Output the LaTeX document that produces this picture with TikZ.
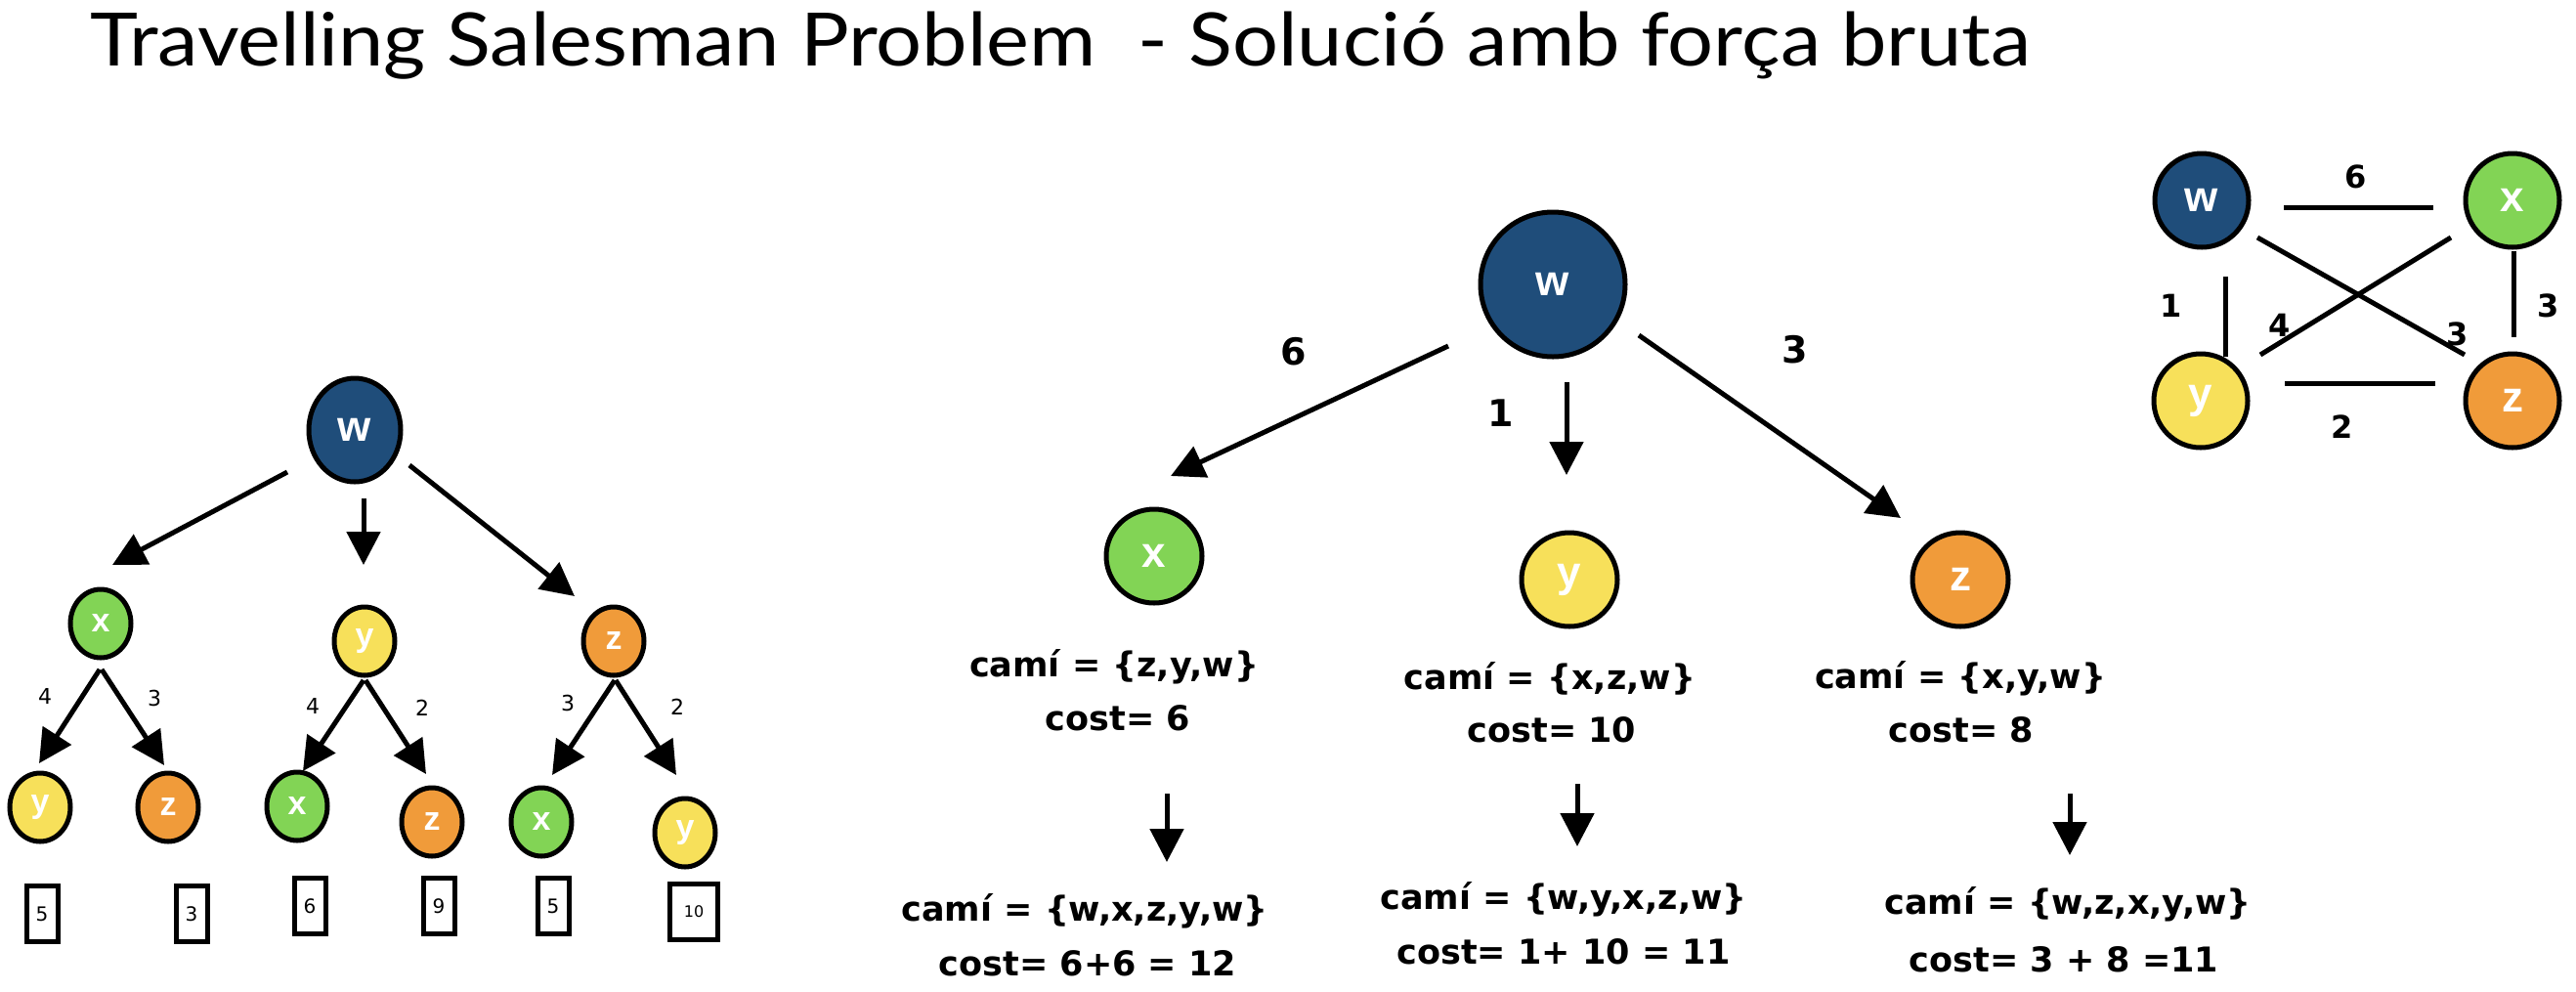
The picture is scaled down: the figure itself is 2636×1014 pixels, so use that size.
\documentclass[tikz,border=0pt]{standalone}
\usepackage{fontspec}
\usetikzlibrary{shapes.geometric,arrows.meta,calc}
\newfontfamily\titlefont[FakeStretch=1.1]{Lato}
\newfontfamily\vfont{Liberation Sans}
\newfontfamily\hfont{DejaVu Sans}
\definecolor{cw}{HTML}{1F4D7A}
\definecolor{cx}{HTML}{82D455}
\definecolor{cy}{HTML}{F7E05A}
\definecolor{cz}{HTML}{F09B3A}
\begin{document}
\begin{tikzpicture}[x=0.5pt,y=-0.5pt,
  vtx/.style={ellipse,draw=black,line width=2.5pt,inner sep=0pt,text=white,font=\vfont\bfseries\fontsize{22}{22}\selectfont},
  vs/.style={vtx,minimum width=31pt,minimum height=35pt,font=\vfont\bfseries\fontsize{17}{17}\selectfont},
  vbig/.style={vtx,minimum width=47pt,minimum height=53pt},
  vm/.style={vtx,minimum width=49pt,minimum height=48pt},
  vhuge/.style={vtx,minimum width=74pt,minimum height=74pt},
  vr/.style={vtx,minimum width=48pt,minimum height=48pt},
  fw/.style={fill=cw}, fx/.style={fill=cx}, fy/.style={fill=cy}, fz/.style={fill=cz},
  arr/.style={line width=2.5pt,-{Triangle[length=17pt,width=17pt]}},
  edge/.style={line width=2.5pt},
  lblS/.style={font=\hfont\fontsize{11}{11}\selectfont,inner sep=0pt},
  lblM/.style={font=\hfont\bfseries\fontsize{19}{19}\selectfont,inner sep=0pt},
  lblR/.style={font=\hfont\bfseries\fontsize{16}{16}\selectfont,inner sep=0pt},
  htext/.style={font=\hfont\bfseries\fontsize{17.5}{18}\selectfont,inner sep=0pt},
  costbox/.style={draw,line width=2.5pt,minimum width=16pt,minimum height=28.5pt,inner sep=0pt,font=\hfont\fontsize{10}{10}\selectfont}
]
\useasboundingbox (0,0) rectangle (2636,1014);

% title
\node[anchor=base west,inner sep=0pt,font=\titlefont\fontsize{37.7}{40}\selectfont] (title) at (92,67) {Travelling Salesman Problem \ - Solució amb força bruta};

% ---------- left tree ----------
\node[vbig,fw] (Lw) at (363,440) {w};
\node[vs,fx] (Lx) at (103,638) {x};
\node[vs,fy] (Ly) at (373,656) {y};
\node[vs,fz] (Lz) at (628,656) {z};
\node[vs,fy] (Lxy) at (41,826) {y};
\node[vs,fz] (Lxz) at (172,826) {z};
\node[vs,fx] (Lyx) at (304,825) {x};
\node[vs,fz] (Lyz) at (442,841) {z};
\node[vs,fx] (Lzx) at (554,841) {x};
\node[vs,fy] (Lzy) at (701,852) {y};

\node[costbox] (B1) at (43,935) {5};
\node[costbox] (B2) at (196,935) {3};
\node[costbox] (B3) at (317,927) {6};
\node[costbox] (B4) at (449,927) {9};
\node[costbox] (B5) at (566,927) {5};
\node[costbox,minimum width=24.5pt,font=\hfont\fontsize{8}{8}\selectfont] (B6) at (710,933) {10};

\draw[arr] ($(Lw)+(-69,43)$) -- ($(Lx)+(12,-60)$);
\draw[arr] ($(Lw)+(9,70)$) -- ($(Ly)+(-1,-78)$);
\draw[arr] ($(Lw)+(56,36)$) -- ($(Lz)+(-40,-46)$);
\draw[arr] ($(Lx)+(-1,47)$) -- ($(Lxy)+(-1,-45)$);
\draw[arr] ($(Lx)+(1,47)$) -- ($(Lxz)+(-4,-43)$);
\draw[arr] ($(Ly)+(-1,40)$) -- ($(Lyx)+(6,-36)$);
\draw[arr] ($(Ly)+(1,40)$) -- ($(Lyz)+(-6,-49)$);
\draw[arr] ($(Lz)+(1,40)$) -- ($(Lzx)+(11,-48)$);
\draw[arr] ($(Lz)+(2,40)$) -- ($(Lzy)+(-9,-59)$);

\node[lblS] (l1) at (46,712) {4};
\node[lblS] (l2) at (158,714) {3};
\node[lblS] (l3) at (320,722) {4};
\node[lblS] (l4) at (432,724) {2};
\node[lblS] (l5) at (581,719) {3};
\node[lblS] (l6) at (693,723) {2};

% ---------- middle tree ----------
\node[vhuge,fw] (Mw) at (1589,291) {w};
\node[vm,fx] (Mx) at (1181,569) {x};
\node[vm,fy] (My) at (1606,593) {y};
\node[vm,fz] (Mz) at (2006,593) {z};

\draw[arr] ($(Mw)+(-107,63)$) -- ($(Mx)+(17,-82)$);
\draw[arr] ($(Mw)+(14,100)$) -- ($(My)+(-3,-107)$);
\draw[arr] ($(Mw)+(88,52)$) -- ($(Mz)+(-61,-63)$);

\node[lblM] (m1) at (1324,360) {6};
\node[lblM] (m2) at (1536,423) {1};
\node[lblM] (m3) at (1837,358) {3};

\node[htext] (P1) at (1140,682) {camí = \{z,y,w\}};
\node[htext] (C1) at (1144,735) {cost= 6};
\node[htext] (P2) at (1586,694) {camí = \{x,z,w\}};
\node[htext] (C2) at (1588,747) {cost= 10};
\node[htext] (P3) at (2006,694) {camí = \{x,y,w\}};
\node[htext] (C3) at (2007,747) {cost= 8};

\node[htext] (Q1) at (1110,932) {camí = \{w,x,z,y,w\}};
\node[htext] (D1) at (1113,986) {cost= 6+6 = 12};
\node[htext] (Q2) at (1600,920) {camí = \{w,y,x,z,w\}};
\node[htext] (D2) at (1600,974) {cost= 1+ 10 = 11};
\node[htext] (Q3) at (2116,925) {camí = \{w,z,x,y,w\}};
\node[htext] (D3) at (2112,982) {cost= 3 + 8 =11};

\draw[arr] ($(C1)+(50,77)$) -- ($(Q1)+(84,-50)$);
\draw[arr] ($(C2)+(26,55)$) -- ($(Q2)+(14,-54)$);
\draw[arr] ($(C3)+(111,65)$) -- ($(Q3)+(2,-50)$);

% ---------- right graph ----------
\node[vr,fw] (Rw) at (2253,205) {w};
\node[vr,fx] (Rx) at (2571,205) {x};
\node[vr,fy] (Ry) at (2252,410) {y};
\node[vr,fz] (Rz) at (2571,410) {z};

\draw[edge] ($(Rw)+(84,7)$) -- ($(Rx)+(-81,7)$);
\draw[edge] ($(Ry)+(86,-18)$) -- ($(Rz)+(-79,-18)$);
\draw[edge] ($(Rw)+(24,78)$) -- ($(Ry)+(25,-45)$);
\draw[edge] ($(Rx)+(1,52)$) -- ($(Rz)+(1,-65)$);
\draw[edge] ($(Rw)+(57,38)$) -- ($(Rz)+(-49,-47)$);
\draw[edge] ($(Rx)+(-63,38)$) -- ($(Ry)+(61,-47)$);

\node[lblR] (r1) at (2411,181) {6};
\node[lblR] (r2) at (2222,313) {1};
\node[lblR] (r3) at (2333,333) {4};
\node[lblR] (r4) at (2515,342) {3};
\node[lblR] (r5) at (2608,313) {3};
\node[lblR] (r6) at (2397,437) {2};
\end{tikzpicture}
\end{document}
